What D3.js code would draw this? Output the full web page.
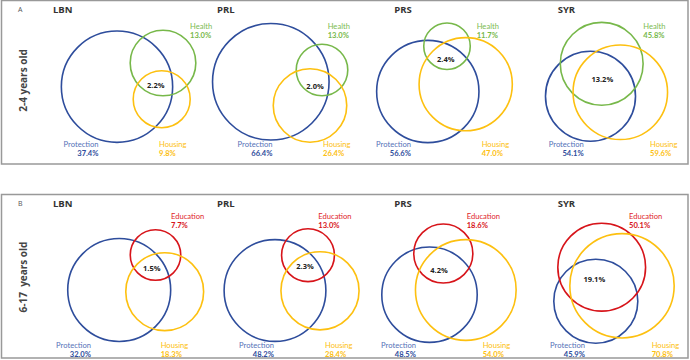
<!DOCTYPE html>
<meta charset="utf-8" />
<script src="https://d3js.org/d3.v7.min.js"></script>
<style>
  body { margin: 0; background: #fff; }
  text { font-family: "Open Sans", sans-serif; }
  .setlab { font-family: Lato, sans-serif; }
</style>
<div id="my_dataviz"></div>
<script>
  // data
  const panelIds = ["A", "B"];
  const ageGroups = ["2-4 years old", "6-17  years old"];
  const countries = ["LBN", "PRL", "PRS", "SYR"];
  const thirdNames = ["Health", "Education"];
  const protection = [[37.4, 66.4, 56.6, 54.1], [32.0, 48.2, 48.5, 45.9]];
  const housing = [[9.8, 26.4, 47.0, 59.6], [18.3, 28.4, 54.0, 70.8]];
  const third = [[13.0, 13.0, 11.7, 45.8], [7.7, 13.0, 18.6, 50.1]];
  const overlapAll = [[2.2, 2.0, 2.4, 13.2], [1.5, 2.3, 4.2, 19.1]];

  // layout (pixels) - kept apart from the values
  const width = 690, height = 360;
  const panelTop = [0.5, 194.5], panelH = 163.5;
  const titleX = [53, 217, 394.3, 557.7];
  // px per sqrt(%) for each diagram, the venn in the source is scaled per country
  const radiusK = [[9.1, 7.15, 6.8, 6.12], [9.1, 7.33, 6.85, 6.2]];
  // circle centres [protection, third, housing] relative to panel top
  const centres = [
    [
      [[117, 86.2], [163, 62.5], [161.7, 98.7]],
      [[270.8, 81.3], [322, 69.5], [310, 105]],
      [[427.8, 91], [447, 45.7], [465.7, 83.7]],
      [[590.5, 95.7], [601.7, 63.3], [620.3, 91.8]],
    ],
    [
      [[119.2, 95.5], [155.5, 60.5], [164.7, 97.2]],
      [[275, 96], [308, 60.7], [320, 96.3]],
      [[429.5, 100.2], [443.3, 59], [465.8, 95.5]],
      [[595.8, 106.7], [601.7, 72.7], [622, 91.3]],
    ],
  ];
  const midLabel = [
    [[155.7, 84.5], [315, 85.5], [445.7, 58.8], [602.3, 78.5]],
    [[151.7, 73.7], [305, 71.7], [439, 75.3], [594.3, 84.3]],
  ];
  const protLabelX = [[98.5, 272.5, 411, 583.7], [91, 274, 416, 585]];
  const housLabelX = [[159, 323, 481.7, 650], [160.7, 325, 482.7, 651.7]];
  const thirdLabelX = [[190, 327.7, 476.7, 643.3], [171, 318.3, 466.7, 629]];
  const bottomLabelY = [143.6, 150.8];
  const topLabelY = [25.3, 21.8];
  const lineGap = 9.1;

  const blue = "#2e4d9c", green = "#77b84a", yellow = "#fdc010", red = "#d7141a";
  const thirdColor = [green, red];
  const thirdText = ["#7dbb52", "#e0262c"];

  const svg = d3
    .select("#my_dataviz")
    .append("svg")
    .attr("width", width)
    .attr("height", height);

  panelIds.forEach(function (pid, p) {
    const g = svg.append("g").attr("transform", `translate(0, ${panelTop[p]})`);

    // frame
    g.append("rect")
      .attr("x", 1.5)
      .attr("y", 0)
      .attr("width", 686.5)
      .attr("height", panelH)
      .attr("fill", "none")
      .attr("stroke", "#999")
      .attr("stroke-width", 1.5);

    g.append("text")
      .attr("x", 18)
      .attr("y", 9)
      .attr("dominant-baseline", "central")
      .style("font-size", "7px")
      .style("fill", "#555")
      .text(pid);

    // age group, rotated
    g.append("text")
      .attr("transform", `translate(27, ${p === 0 ? 80 : 82.5}) rotate(-90)`)
      .attr("text-anchor", "middle")
      .style("font-size", "10px")
      .style("font-weight", "bold")
      .style("fill", "#444")
      .style("white-space", "pre")
      .text(ageGroups[p]);

    countries.forEach(function (c, i) {
      const r = d3.scaleSqrt().domain([0, 100]).range([0, radiusK[p][i] * 10]);
      const sets = [
        { v: protection[p][i], col: blue },
        { v: third[p][i], col: thirdColor[p] },
        { v: housing[p][i], col: yellow },
      ];

      g.append("text")
        .attr("x", titleX[i])
        .attr("y", 9)
        .attr("dominant-baseline", "central")
        .style("font-size", "9.5px")
        .style("font-weight", "bold")
        .style("fill", "#333")
        .text(c);

      g.selectAll(null)
        .data(sets)
        .join("circle")
        .attr("cx", (d, k) => centres[p][i][k][0])
        .attr("cy", (d, k) => centres[p][i][k][1])
        .attr("r", (d) => r(d.v))
        .attr("fill", "none")
        .attr("stroke", (d) => d.col)
        .attr("stroke-width", 1.6);

      g.append("text")
        .attr("x", midLabel[p][i][0])
        .attr("y", midLabel[p][i][1])
        .attr("text-anchor", "middle")
        .attr("dominant-baseline", "central")
        .style("font-size", "7.5px")
        .style("font-weight", "bold")
        .style("fill", "#222")
        .text(overlapAll[p][i].toFixed(1) + "%");

      // set labels: name + value in one text block
      const labels = [
        { x: protLabelX[p][i], y: bottomLabelY[p], anchor: "end", name: "Protection", v: protection[p][i], c1: "#5572b8", c2: blue },
        { x: housLabelX[p][i], y: bottomLabelY[p], anchor: "start", name: "Housing", v: housing[p][i], c1: yellow, c2: yellow },
        { x: thirdLabelX[p][i], y: topLabelY[p], anchor: "start", name: thirdNames[p], v: third[p][i], c1: thirdText[p], c2: thirdColor[p] },
      ];
      labels.forEach(function (l) {
        const t = g.append("text")
          .attr("class", "setlab")
          .attr("x", l.x)
          .attr("y", l.y)
          .attr("text-anchor", l.anchor)
          .attr("dominant-baseline", "central")
          .style("font-size", "7.6px");
        t.append("tspan")
          .attr("x", l.x)
          .style("fill", l.c1)
          .text(l.name);
        t.append("tspan")
          .attr("x", l.x)
          .attr("dy", lineGap)
          .style("font-weight", "bold")
          .style("fill", l.c2)
          .text(l.v.toFixed(1) + "%");
      });
    });
  });
</script>
